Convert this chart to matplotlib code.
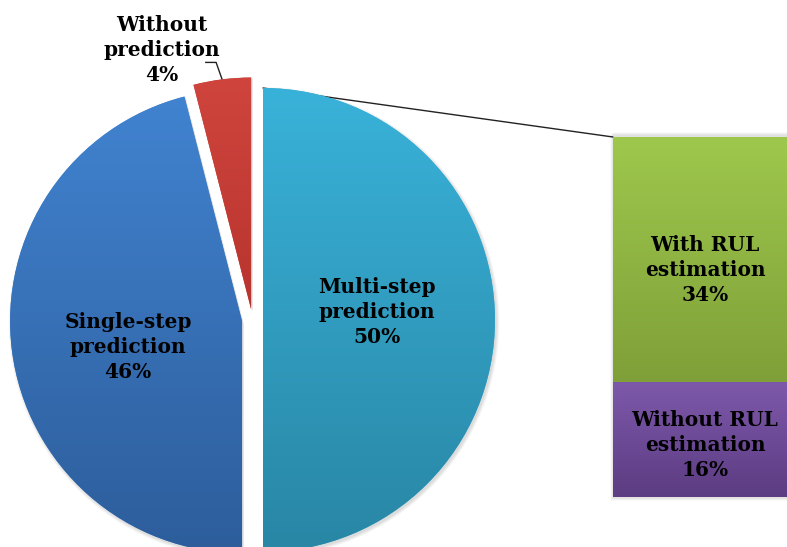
import numpy as np
import matplotlib
matplotlib.use("Agg")
import matplotlib.pyplot as plt
from matplotlib.patches import ConnectionPatch, Wedge, Rectangle
from matplotlib.colors import to_rgb

# ---- data -------------------------------------------------------------
pie_labels = ["Multi-step\nprediction", "Without\nprediction", "Single-step\nprediction"]
pie_values = [50, 4, 46]

bar_labels = ["Without RUL\nestimation", "With RUL\nestimation"]
bar_values = [16, 34]

# ---- styling ----------------------------------------------------------
W, H = 787, 547
pie_grad = [("#39b2d9", "#2986a5"), ("#cf453d", "#b8342e"), ("#4183d0", "#2d5d9b")]
bar_grad = [("#7e59ab", "#5c3c82"), ("#9ec84d", "#7f9f38")]
FONT = dict(family="DejaVu Serif", fontweight="bold", fontsize=14.5, color="black",
            ha="center", va="center", linespacing=1.3)

fig = plt.figure(figsize=(W / 100, H / 100), dpi=100)
fig.patch.set_facecolor("white")

ax = fig.add_axes([0, 0, 1, 1])

# pie geometry (pixel units, y upwards)
cx, cy, R = 252.5, 227.0, 232.0
explode_px = 10.5
wedges, _ = ax.pie(pie_values, explode=[explode_px] * len(pie_values),
                   startangle=-90, counterclock=True, center=(cx, cy), radius=R,
                   colors=[g[0] for g in pie_grad], frame=True,
                   wedgeprops=dict(linewidth=0))
ax.set_xlim(0, W)
ax.set_ylim(0, H)
ax.set_aspect("equal")
ax.axis("off")


def gradient_fill(axis, patch, top, bottom, z):
    fig.canvas.draw()
    bb = patch.get_window_extent().transformed(axis.transData.inverted())
    t, b = np.array(to_rgb(top)), np.array(to_rgb(bottom))
    s = np.linspace(0, 1, 256)[:, None, None]
    img = b * (1 - s) + t * s
    im = axis.imshow(img, extent=(bb.x0, bb.x1, bb.y0, bb.y1), origin="lower",
                     aspect="auto", zorder=z, interpolation="bilinear")
    im.set_clip_path(patch)
    patch.set_zorder(z - 0.1)


# soft drop shadow under each slice
for w in wedges:
    for k in range(6):
        ax.add_patch(Wedge((w.center[0] + 1.5, w.center[1] - 2.0), R + 3 - k * 0.6,
                           w.theta1, w.theta2, facecolor="black", alpha=0.025,
                           linewidth=0, zorder=1))

for w, (top, bot) in zip(wedges, pie_grad):
    gradient_fill(ax, w, top, bot, 2)
ax.set_xlim(0, W)
ax.set_ylim(0, H)

# ---- stacked bar ------------------------------------------------------
bx0, by0, bw, bh = 613, 50, 174, 360
for k in range(6):
    ax.add_patch(Rectangle((bx0 - 3 + k * 0.6, by0 - 4 + k * 0.6), bw + 6, bh + 6,
                           facecolor="black", alpha=0.02, linewidth=0, zorder=1))
axb = fig.add_axes([bx0 / W, by0 / H, bw / W, bh / H])
bottom = 0
bars = []
for v, (top, bot) in zip(bar_values, bar_grad):
    r = axb.bar(0, v, width=1, bottom=bottom, color=top, linewidth=0)[0]
    bars.append(r)
    bottom += v
axb.set_xlim(-0.5, 0.5)
axb.set_ylim(0, sum(bar_values))
axb.axis("off")
for r, (top, bot) in zip(bars, bar_grad):
    gradient_fill(axb, r, top, bot, 2)
axb.set_xlim(-0.5, 0.5)
axb.set_ylim(0, sum(bar_values))

# ---- connector lines from the split slice to the bar --------------------
split = wedges[0]
sx, sy = split.center
for yb, ang in [(sum(bar_values), split.theta2), (0, split.theta1)]:
    pa = (sx + R * np.cos(np.radians(ang)), sy + R * np.sin(np.radians(ang)))
    con = ConnectionPatch(xyA=pa, coordsA="data", axesA=ax,
                          xyB=(-0.5, yb), coordsB="data", axesB=axb,
                          color="#222222", linewidth=1.0, zorder=0.5)
    ax.add_artist(con)

# ---- labels -----------------------------------------------------------
inside_pos = {0: (377, H - 312), 2: (128, H - 347)}
for i, pos in inside_pos.items():
    ax.text(*pos, f"{pie_labels[i]}\n{pie_values[i]}%", zorder=5, **FONT)

# small slice: outside label with leader line
small = wedges[1]
mid = np.radians((small.theta1 + small.theta2) / 2)
ox, oy = small.center
anchor = (ox + R * np.cos(mid), oy + R * np.sin(mid))
knee = (anchor[0] - 6, anchor[1] + 17)
end = (knee[0] - 11, knee[1])
ax.plot([anchor[0], knee[0], end[0]], [anchor[1], knee[1], end[1]],
        color="#222222", lw=1.0, zorder=6, solid_capstyle="butt")
ax.text(162, H - 50, f"{pie_labels[1]}\n{pie_values[1]}%", zorder=5, **FONT)

bar_label_y = [H - 445, H - 270]
for lab, v, yy in zip(bar_labels, bar_values, bar_label_y):
    axb.text(705, yy, f"{lab}\n{v}%", transform=ax.transData, zorder=5, **FONT)

fig.savefig("out.png", dpi=100, facecolor="white")
